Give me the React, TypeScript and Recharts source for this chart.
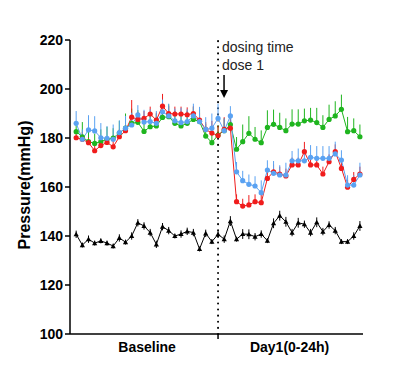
import React from 'react';
import {
  LineChart,
  Line,
  XAxis,
  YAxis,
  ErrorBar,
  ReferenceLine,
} from 'recharts';

// hourly points: 24 baseline + 23 after dosing
const redValues = [
  180.1, 179.5, 178.1, 174.8, 176.9, 178.2, 176.4, 180.5, 183, 188.5, 187.6, 188,
  189.8, 187.3, 193, 190, 189.8, 189.8, 189.5, 190, 187.3, 183.5, 182, 181,
  183.5, 184, 154, 152.2, 152.7, 154, 153.6, 163.5, 166.2, 165.3, 164.5,
  169, 169, 174.4, 169, 169, 165.3, 170.3, 174.4, 167.6, 159.9, 163.1, 165.3,
];
const blueValues = [
  186, 179.5, 183.3, 182.9, 180.1, 179.9, 179.5, 182.2, 184, 185.3, 189.4, 186.5,
  186.7, 186, 190.7, 189, 187, 186.3, 186.7, 189, 186.7, 183.5, 184, 188,
  183, 189, 166.2, 162.6, 161.1, 160.4, 157.7, 166.9, 165.6, 164.9, 164.9,
  170.7, 170.7, 170.7, 172.1, 171.7, 171.7, 171.7, 173.5, 171, 160.8, 160.8, 164.9,
];
const greenValues = [
  182.6, 180.5, 178.5, 177.8, 178.5, 179.5, 180, 182, 184, 186, 186.4, 182.7,
  184.6, 184.9, 188.4, 188.7, 186, 184.9, 186, 187.6, 186.7, 180.8, 178.1, 181.2,
  183, 185.5, 175.4, 178.5, 181.9, 179.5, 178.1, 184.3, 185.6, 184.3, 183,
  185.7, 185.7, 187, 187.3, 186.3, 184.3, 187.6, 189, 191.7, 182.6, 183, 180.5,
];
const blackValues = [
  140.7, 136.3, 138.7, 137.1, 138, 137.1, 135.9, 139.2, 137.5, 140, 145.4, 144.1,
  141.4, 136.6, 143.8, 142.2, 140, 140.8, 141.9, 141.4, 134.7, 141.1, 137.7, 140.7,
  138.7, 146.1, 138.7, 140.8, 140.7, 139.7, 140.8, 138.1, 145.2, 148.3, 145.8,
  141.4, 145.4, 144.8, 141.4, 145.6, 141.8, 144.5, 142.2, 137.7, 137.7, 140, 144.1,
];

// upward SEM bars
const redErr = [
  2, 3, 2, 3, 3, 2, 3, 3, 3, 7, 3, 3,
  3, 3, 5, 3, 3, 3, 3, 3, 3, 3, 5, 4,
  5, 5, 3, 3, 4, 3, 4, 3, 3, 3, 3,
  3, 3, 4, 3, 3, 3, 3, 3, 4, 3, 3, 3,
];
const blueErr = [
  5, 4, 6, 6, 6, 5, 6, 5, 5, 5, 4, 5,
  5, 5, 5, 5, 5, 6, 5, 5, 6, 5, 6, 6,
  5, 4, 4, 4, 4, 4, 5, 4, 5, 4, 5,
  4, 5, 5, 5, 5, 5, 5, 5, 4, 4, 4, 5,
];
const greenErr = [
  4, 6, 4, 4, 5, 5, 4, 5, 6, 6, 5, 6,
  5, 5, 5, 5, 5, 5, 5, 5, 5, 5, 5, 4,
  5, 4, 5, 7, 7, 5, 5, 7, 6, 6, 5,
  6, 6, 5, 5, 6, 5, 6, 6, 6, 6, 5, 5,
];
const blackErr = [
  1.5, 1, 1.5, 1, 1, 1, 1, 1.5, 1, 1.5, 1.5, 1.5,
  1.5, 1.5, 1.5, 1.5, 1, 1.5, 1.5, 1.5, 1, 1.5, 1, 1.5,
  1.5, 2, 1, 2, 2, 1.5, 1.5, 1, 2, 2, 2,
  1.5, 2, 1.5, 1.5, 2, 1.5, 1.5, 1.5, 1, 1, 1.5, 2,
];

const yTicks = [100, 120, 140, 160, 180, 200, 220];
const groupLabels = ['Baseline', 'Day1(0-24h)'];
const groupCenters = [11.5, 34.6];
const dosingIndex = 23;

const data = redValues.map((v, i) => ({
  t: i,
  red: v,
  blue: blueValues[i],
  green: greenValues[i],
  black: blackValues[i],
  redErr: [0, redErr[i]],
  blueErr: [0, blueErr[i]],
  greenErr: [0, greenErr[i]],
  blackErr: [blackErr[i], blackErr[i]],
}));

const FONT = 'Arial, "Liberation Sans", Helvetica, sans-serif';

const Triangle = (props: any) => {
  const { cx, cy } = props;
  if (cx == null || cy == null) return null;
  const s = 2.6;
  return (
    <path
      d={`M${cx},${cy - s} L${cx + s},${cy + s * 0.8} L${cx - s},${cy + s * 0.8} Z`}
      fill="#000"
    />
  );
};

const XTick = (props: any) => {
  const { x, y, payload } = props;
  if (payload.value === dosingIndex) {
    return <line x1={x} x2={x} y1={y - 8} y2={y - 3} stroke="#000" strokeWidth={1.5} />;
  }
  const idx = groupCenters.indexOf(payload.value);
  return (
    <text
      x={x}
      y={y + 10}
      textAnchor="middle"
      fontFamily={FONT}
      fontWeight="bold"
      fontSize={14}
      fill="#000"
    >
      {groupLabels[idx]}
    </text>
  );
};

const DosingLabel = (props: any) => {
  const { viewBox } = props;
  const x = viewBox.x;
  const y = viewBox.y;
  return (
    <g>
      <text x={x + 4} y={y + 12} fontFamily={FONT} fontSize={14} fill="#222">
        dosing time
      </text>
      <text x={x + 4} y={y + 30} fontFamily={FONT} fontSize={14} fill="#222">
        dose 1
      </text>
      <line x1={x + 6} x2={x + 6} y1={y + 35} y2={y + 54} stroke="#000" strokeWidth={1.5} />
      <path d={`M${x + 2},${y + 50} L${x + 10},${y + 50} L${x + 6},${y + 58} Z`} fill="#000" />
    </g>
  );
};

const YLabel = (props: any) => {
  const { viewBox } = props;
  const cx = viewBox.x + 24;
  const cy = viewBox.y + viewBox.height / 2 - 2;
  return (
    <text
      x={cx}
      y={cy}
      transform={`rotate(-90, ${cx}, ${cy})`}
      textAnchor="middle"
      dominantBaseline="central"
      fontFamily={FONT}
      fontWeight="bold"
      fontSize={16}
      fill="#000"
    >
      Pressure(mmHg)
    </text>
  );
};

export default function App() {
  return (
    <div style={{ position: 'absolute', left: 0, top: 0, background: '#fff' }}>
      <LineChart
        width={401}
        height={376}
        data={data}
        margin={{ top: 40, right: 38, left: 0, bottom: 0 }}
      >
        <XAxis
          dataKey="t"
          type="number"
          domain={[-1, 46.5]}
          ticks={[groupCenters[0], dosingIndex, groupCenters[1]]}
          tick={<XTick />}
          tickLine={false}
          axisLine={{ stroke: '#000', strokeWidth: 1.5 }}
          height={42}
          interval={0}
        />
        <YAxis
          type="number"
          domain={[100, 220]}
          ticks={yTicks}
          width={70}
          allowDataOverflow
          tick={{ fontFamily: FONT, fontWeight: 'bold', fontSize: 14, fill: '#000' }}
          tickLine={{ stroke: '#000', strokeWidth: 1.5 }}
          tickSize={5}
          axisLine={{ stroke: '#000', strokeWidth: 1.5 }}
          label={<YLabel />}
        />
        <ReferenceLine
          x={dosingIndex}
          stroke="#000"
          strokeWidth={2}
          strokeDasharray="0.1 6"
          strokeLinecap="round"
          label={<DosingLabel />}
        />

        <Line
          dataKey="green"
          stroke="#1fb51f"
          strokeWidth={1}
          dot={{ r: 2.6, fill: '#1fb51f', stroke: 'none' }}
          isAnimationActive={false}
        >
          <ErrorBar dataKey="greenErr" width={0} stroke="#1fb51f" strokeWidth={1} direction="y" />
        </Line>
        <Line
          dataKey="red"
          stroke="#f01c1c"
          strokeWidth={1}
          dot={{ r: 2.6, fill: '#f01c1c', stroke: 'none' }}
          isAnimationActive={false}
        >
          <ErrorBar dataKey="redErr" width={0} stroke="#f01c1c" strokeWidth={1} direction="y" />
        </Line>
        <Line
          dataKey="blue"
          stroke="#5aa2f2"
          strokeWidth={1}
          dot={{ r: 2.6, fill: '#5aa2f2', stroke: 'none' }}
          isAnimationActive={false}
        >
          <ErrorBar dataKey="blueErr" width={0} stroke="#5aa2f2" strokeWidth={1} direction="y" />
        </Line>
        <Line
          dataKey="black"
          stroke="#000"
          strokeWidth={1}
          dot={<Triangle />}
          isAnimationActive={false}
        >
          <ErrorBar dataKey="blackErr" width={0} stroke="#000" strokeWidth={1} direction="y" />
        </Line>
      </LineChart>
    </div>
  );
}
